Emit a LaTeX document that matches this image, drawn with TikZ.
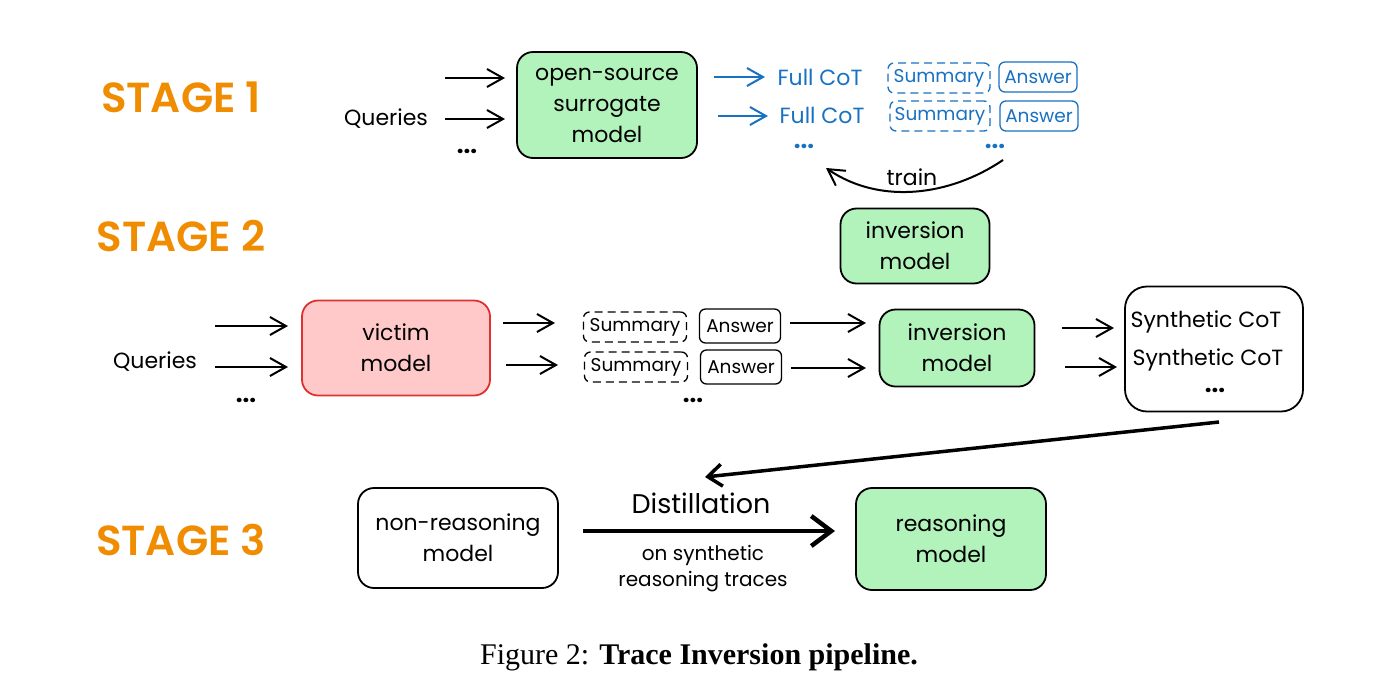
\documentclass[tikz,border=0pt]{standalone}
\usepackage{fontspec}
\setmainfont{Poppins}
\newfontfamily\capfont{Liberation Serif}
\newfontfamily\stagefont{Poppins SemiBold}
\usetikzlibrary{arrows.meta}
\definecolor{grn}{HTML}{B2F2BB}
\definecolor{pnk}{HTML}{FFC9C9}
\definecolor{redl}{HTML}{E03131}
\definecolor{blu}{HTML}{1971C2}
\definecolor{org}{HTML}{F08C00}
\tikzset{
  box/.style={draw=black, line width=1.8pt, rounded corners=16pt, align=center, inner sep=0pt,
    font=\fontsize{22}{31}\selectfont},
  arr/.style={-{Straight Barb[length=16pt,width=18pt,line width=2pt]}, line width=2pt},
  thickarr/.style={-{Straight Barb[length=20pt,width=30pt,line width=4.5pt]}, line width=4.5pt},
  txt/.style={font=\fontsize{22}{31}\selectfont, align=center, inner sep=0pt},
  dots/.style={font=\fontsize{24}{24}\selectfont\bfseries, inner sep=0pt},
  stagelbl/.style={font=\stagefont\fontsize{42}{46}\selectfont, text=org, inner sep=0pt},
  sbox/.style={draw, rounded corners=6pt, line width=1.3pt, font=\fontsize{18.5}{20}\selectfont,
    minimum height=30pt, inner xsep=3pt, inner ysep=0pt},
  dbox/.style={sbox, dash pattern=on 8pt off 5pt},
}
\begin{document}
\begin{tikzpicture}[x=1pt,y=-1pt]
\useasboundingbox (0,0) rectangle (1400,697);
\fill[white] (0,0) rectangle (1400,697);

% stage labels
\node[stagelbl] (s1) at (181,97) {STAGE 1};
\node[stagelbl] (s2) at (181,236) {STAGE 2};
\node[stagelbl] (s3) at (181,540) {STAGE 3};

% ---------- stage 1
\node[txt] (q1) at (386,119) {Queries};
\node[dots] (q1d) at (467,151) {...};
\coordinate (a1s) at (445,78); \coordinate (a1e) at (505,78);
\coordinate (a2s) at (445,119); \coordinate (a2e) at (505,119);
\draw[arr] (a1s) -- (a1e);
\draw[arr] (a2s) -- (a2e);
\node[box, fill=grn, minimum width=180pt, minimum height=106pt] (sur) at (607,105) {open-source\\surrogate\\model};

\coordinate (b1s) at (714,77); \coordinate (b1e) at (765,77);
\coordinate (b2s) at (718,116); \coordinate (b2e) at (768,116);
\draw[arr, blu] (b1s) -- (b1e);
\draw[arr, blu] (b2s) -- (b2e);
\node[txt, text=blu] (f1) at (820,77) {Full CoT};
\node[txt, text=blu] (f2) at (822,115) {Full CoT};
\node[dbox, draw=blu, text=blu, minimum width=102pt] (sm1) at (939,78) {Summary};
\node[dbox, draw=blu, text=blu, minimum width=100pt] (sm2) at (940,116) {Summary};
\node[sbox, draw=blu, text=blu, minimum width=78pt] (an1) at (1038,77) {Answer};
\node[sbox, draw=blu, text=blu, minimum width=78pt] (an2) at (1039,116) {Answer};
\node[dots, text=blu] (bd1) at (804,146) {...};
\node[dots, text=blu] (bd2) at (995,146) {...};
\coordinate (ts) at (1003,160); \coordinate (te) at (826,168);
\draw[arr] (ts) .. controls (950,196) and (880,205) .. (te);
\node[txt] (train) at (912,177) {train};

% ---------- stage 2
\node[box, fill=grn, minimum width=149pt, minimum height=75pt] (inv1) at (915,246) {inversion\\model};

\node[txt] (q2) at (155,362) {Queries};
\node[dots] (q2d) at (246,400) {...};
\coordinate (c1s) at (215,326); \coordinate (c1e) at (288,326);
\coordinate (c2s) at (215,367); \coordinate (c2e) at (288,367);
\draw[arr] (c1s) -- (c1e);
\draw[arr] (c2s) -- (c2e);
\node[box, fill=pnk, draw=redl, minimum width=188pt, minimum height=95pt] (vic) at (396,348) {victim\\model};

\coordinate (d1s) at (503,323); \coordinate (d1e) at (555,323);
\coordinate (d2s) at (506,365); \coordinate (d2e) at (558,365);
\draw[arr] (d1s) -- (d1e);
\draw[arr] (d2s) -- (d2e);
\node[dbox, minimum width=103pt] (sm3) at (635,327) {Summary};
\node[dbox, minimum width=103pt] (sm4) at (636,367) {Summary};
\node[sbox, minimum width=81pt, minimum height=34pt] (an3) at (740,326) {Answer};
\node[sbox, minimum width=81pt, minimum height=34pt] (an4) at (741,367) {Answer};
\node[dots] (md) at (693,400) {...};

\coordinate (e1s) at (790,323); \coordinate (e1e) at (866,323);
\coordinate (e2s) at (791,368); \coordinate (e2e) at (866,368);
\draw[arr] (e1s) -- (e1e);
\draw[arr] (e2s) -- (e2e);
\node[box, fill=grn, minimum width=155pt, minimum height=77pt] (inv2) at (957,348) {inversion\\model};

\coordinate (g1s) at (1062,328); \coordinate (g1e) at (1114,328);
\coordinate (g2s) at (1065,367); \coordinate (g2e) at (1117,367);
\draw[arr] (g1s) -- (g1e);
\draw[arr] (g2s) -- (g2e);
\node[box, minimum width=178pt, minimum height=125pt, rounded corners=22pt] (syn) at (1214,349) {};
\node[txt] (sy1) at (1206,322) {Synthetic CoT};
\node[txt] (sy2) at (1208,360) {Synthetic CoT};
\node[dots] (sy3) at (1215,390) {...};

\coordinate (ls) at (1219,422); \coordinate (le) at (705,477);
\draw[-{Straight Barb[length=14pt,width=22pt,line width=3.5pt]}, line width=3.5pt] (ls) -- (le);

% ---------- stage 3
\node[box, minimum width=200pt, minimum height=100pt] (nr) at (458,538) {non-reasoning\\model};
\node[box, fill=grn, minimum width=190pt, minimum height=102pt] (rm) at (951,539) {reasoning\\model};
\coordinate (ds) at (583,531); \coordinate (de) at (835,531);
\draw[thickarr] (ds) -- (de);
\node[txt, font=\fontsize{27}{31}\selectfont] (dist) at (701,503) {Distillation};
\node[txt, font=\fontsize{20}{26}\selectfont] (onst) at (703,569) {on synthetic\\reasoning traces};

% caption
\node[font=\capfont\fontsize{30}{34}\selectfont, inner sep=0pt] (cap) at (699,657) {Figure 2: \textbf{Trace Inversion pipeline.}};
\end{tikzpicture}
\end{document}
